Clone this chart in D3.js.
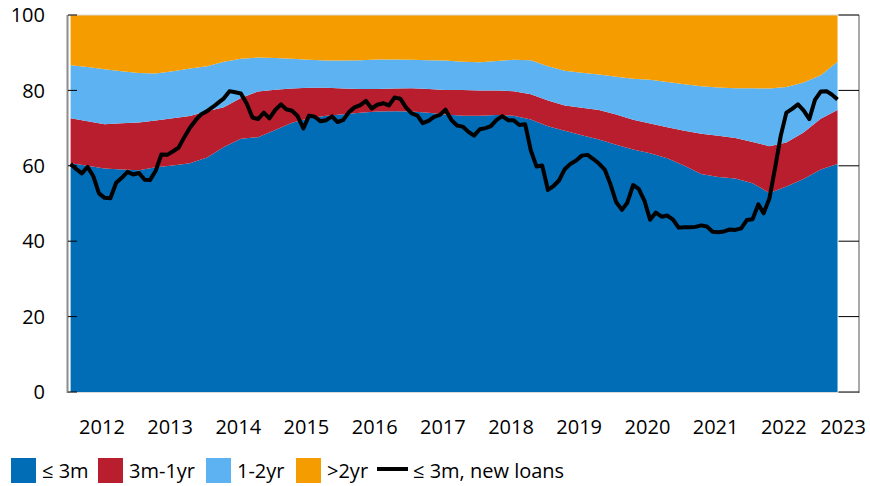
<!DOCTYPE html>
<html>
<head>
<meta charset="utf-8">
<script src="https://cdn.jsdelivr.net/npm/d3@7"></script>
<style>
  body { margin: 0; background: #fff; }
  svg text { font-family: "Open Sans", "Noto Sans", sans-serif; fill: #000; }
</style>
</head>
<body>
<div id="chart"></div>
<script>
// share of deposits by maturity (quarterly), percent
var le3m   = [60.7,60.0,59.3,59.0,58.8,59.6,60.1,60.7,62.2,65.0,67.2,67.6,69.5,71.4,72.6,73.3,73.7,74.1,74.4,74.5,74.4,74.1,73.6,73.3,73.3,73.5,73.3,72.3,70.5,69.3,68.1,67.0,65.6,64.3,63.3,62.0,60.0,57.8,57.0,56.6,55.4,52.8,54.5,56.5,59.0,60.5];
var m3to1y = [11.9,11.8,11.7,12.3,12.7,12.4,12.5,12.5,12.3,10.5,10.8,12.1,10.7,9.1,8.1,7.4,6.8,6.3,6.0,6.0,6.2,6.3,6.5,6.8,6.7,6.5,6.5,6.7,6.8,6.7,7.3,7.8,8.0,7.9,7.9,8.2,9.3,10.7,11.0,10.8,10.9,12.4,11.7,12.3,13.5,14.3];
var y1to2  = [14.1,14.4,14.6,13.8,13.1,12.5,12.5,12.6,11.9,12.1,10.4,9.0,8.4,7.9,7.4,7.2,7.4,7.6,7.8,7.7,7.5,7.6,7.8,7.5,7.5,7.8,8.3,9.0,9.1,9.2,9.3,9.4,10.0,10.9,11.6,12.0,12.3,12.6,12.8,13.2,14.3,15.3,14.7,13.3,11.5,12.8];
var gt2y   = [13.3,13.8,14.4,14.9,15.4,15.5,14.9,14.2,13.6,12.4,11.6,11.3,11.4,11.6,11.9,12.1,12.1,12.0,11.8,11.8,11.9,12.0,12.1,12.4,12.5,12.2,11.9,12.0,13.6,14.8,15.3,15.8,16.4,16.9,17.2,17.8,18.4,18.9,19.2,19.4,19.4,19.5,19.1,17.9,16.0,12.4];

// share of new loans with maturity <= 3m (monthly, Jan 2012 - Apr 2023)
var newLoans = [60.5,59.1,58.0,59.7,57.3,52.7,51.5,51.4,55.5,56.8,58.4,57.7,
  58.1,56.3,56.2,58.7,63.0,62.9,63.8,64.8,67.6,70.1,72.1,73.7,
  74.5,75.6,76.7,77.9,79.8,79.5,79.2,76.5,72.8,72.4,74.1,72.6,
  74.8,76.3,75.0,74.6,73.2,69.9,73.3,73.0,71.8,72.1,73.1,71.6,
  72.2,74.3,75.5,76.1,77.2,75.2,76.2,76.6,76.0,78.1,77.8,75.5,
  73.9,73.3,71.3,71.9,73.0,73.5,74.9,72.2,70.7,70.4,69.0,68.0,
  69.7,70.0,70.5,72.2,73.2,72.1,72.1,70.8,71.0,64.1,59.8,60.1,
  53.6,54.7,56.1,59.1,60.5,61.4,62.7,62.9,61.8,60.6,59.0,55.2,
  50.4,48.3,50.2,54.9,53.9,50.7,45.7,47.6,46.5,46.8,45.7,43.6,
  43.7,43.7,43.8,44.2,43.9,42.5,42.4,42.6,43.1,43.0,43.4,45.6,
  45.8,49.8,47.4,51.3,59.3,68.0,74.1,75.1,76.3,74.7,72.4,77.5,
  79.7,79.8,78.9,77.6];

var years = [2012,2013,2014,2015,2016,2017,2018,2019,2020,2021,2022,2023];
var yTicks = [0,20,40,60,80,100];

var keys = ["le3m","m3to1y","y1to2","gt2y"];
var names = ["≤ 3m","3m-1yr","1-2yr",">2yr"];
var colors = ["#006db6","#b81e2d","#5db3f2","#f49c00"];

var width = 870, height = 486;
var plotLeft = 68, plotRight = 859, plotTop = 15, plotBottom = 392;

var svg = d3.select("#chart").append("svg")
  .attr("width", width)
  .attr("height", height);

var x = d3.scaleTime()
  .domain([new Date(2012,0,1), new Date(2023,7,8)])
  .range([plotLeft, plotRight]);

var y = d3.scaleLinear()
  .domain([0,100])
  .range([plotBottom, plotTop]);

/* rows for the stack, one per quarter */
var rows = le3m.map(function(d,i){
  return {
    date: new Date(2012, i*3, 15),
    le3m: d, m3to1y: m3to1y[i], y1to2: y1to2[i], gt2y: gt2y[i]
  };
});

var series = d3.stack().keys(keys)(rows);

var area = d3.area()
  .x(function(d){ return x(d.data.date); })
  .y0(function(d){ return y(d[0]); })
  .y1(function(d){ return y(d[1]); });

svg.selectAll(".band")
  .data(series).enter()
  .append("path").attr("class","band")
  .attr("d", area)
  .style("fill", function(d,i){ return colors[i]; });

// new loans line
var line = d3.line()
  .x(function(d,i){ return x(new Date(2012, i, 15)); })
  .y(function(d){ return y(d); });

svg.append("path")
  .datum(newLoans)
  .attr("d", line)
  .style("fill","none")
  .style("stroke","#000")
  .style("stroke-width",4)
  .style("stroke-linejoin","round");

// frame
svg.append("line").attr("x1",plotLeft).attr("x2",plotRight).attr("y1",plotTop).attr("y2",plotTop)
  .style("stroke","#d9d9d9").style("stroke-width",1);
svg.append("line").attr("x1",plotLeft).attr("x2",plotRight).attr("y1",plotBottom+0.5).attr("y2",plotBottom+0.5)
  .style("stroke","#d9d9d9").style("stroke-width",1);
svg.append("line").attr("x1",plotLeft-0.5).attr("x2",plotLeft-0.5).attr("y1",plotTop).attr("y2",plotBottom+1)
  .style("stroke","#8c8c8c").style("stroke-width",2);
svg.append("line").attr("x1",plotRight).attr("x2",plotRight).attr("y1",plotTop).attr("y2",plotBottom+1)
  .style("stroke","#8c8c8c").style("stroke-width",1.5);

// y ticks, both sides
svg.selectAll(".tick-l").data(yTicks).enter()
  .append("line").attr("class","tick-l")
  .attr("x1",plotLeft).attr("x2",plotLeft+9)
  .attr("y1",function(d){ return y(d); }).attr("y2",function(d){ return y(d); })
  .style("stroke","#000").style("stroke-width",1);

svg.selectAll(".tick-r").data(yTicks).enter()
  .append("line").attr("class","tick-r")
  .attr("x1",x(new Date(2023,3,20))).attr("x2",plotRight)
  .attr("y1",function(d){ return y(d); }).attr("y2",function(d){ return y(d); })
  .style("stroke","#000").style("stroke-width",1);

svg.selectAll(".ylab").data(yTicks).enter()
  .append("text").attr("class","ylab")
  .attr("x",45)
  .attr("y",function(d){ return y(d); })
  .attr("dy","0.36em")
  .attr("text-anchor","end")
  .style("font-size","20px")
  .text(function(d){ return d; });

// year labels centred mid-year, last one kept inside
svg.selectAll(".xlab").data(years).enter()
  .append("text").attr("class","xlab")
  .attr("x",function(d){ return Math.min(x(new Date(d,6,1)), width - 27); })
  .attr("y",434)
  .attr("text-anchor","middle")
  .style("font-size","20px")
  .text(function(d){ return d; });

// legend
var lg = svg.append("g").attr("transform","translate(11,458)");
var legendX = [0, 87, 195, 285];
names.forEach(function(n,i){
  lg.append("rect")
    .attr("x",legendX[i]).attr("y",0)
    .attr("width",25).attr("height",25)
    .style("fill",colors[i]);
  lg.append("text")
    .attr("x",legendX[i]+31).attr("y",12.5)
    .attr("dy","0.36em")
    .style("font-size","20px")
    .text(n);
});
lg.append("line")
  .attr("x1",366).attr("x2",397).attr("y1",11).attr("y2",11)
  .style("stroke","#000").style("stroke-width",4);
lg.append("text")
  .attr("x",402).attr("y",12.5)
  .attr("dy","0.36em")
  .style("font-size","20px")
  .text("≤ 3m, new loans");
</script>
</body>
</html>
